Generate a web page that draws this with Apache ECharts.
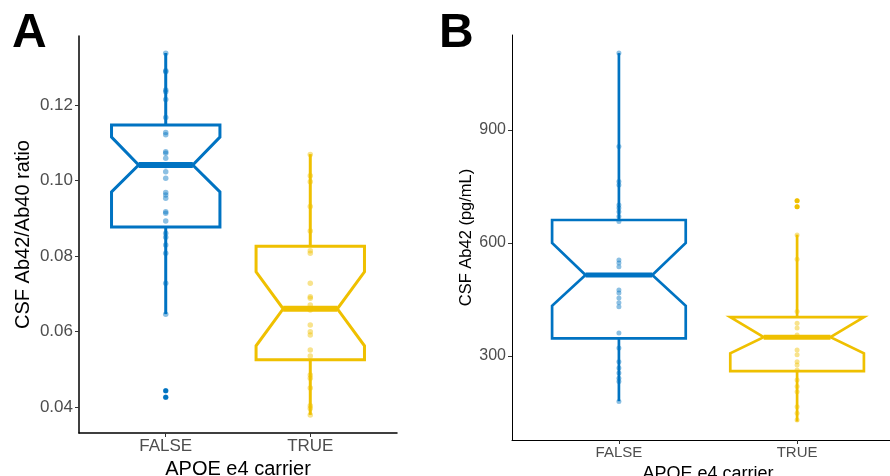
<!DOCTYPE html>
<html>
<head>
<meta charset="utf-8">
<script src="https://cdn.jsdelivr.net/npm/echarts@6/dist/echarts.min.js"></script>
<style>
html,body{margin:0;padding:0;background:#fff;}
#chart{width:890px;height:476px;}
</style>
</head>
<body>
<div id="chart"></div>
<script>
// ---------- data ----------
const categories = ['FALSE', 'TRUE'];
const xTitle = 'APOE e4 carrier';

// Panel A: CSF Ab42/Ab40 ratio
const titleA = 'CSF Ab42/Ab40 ratio';
const ticksA = [0.04, 0.06, 0.08, 0.10, 0.12];
// [lowerWhisker, q1, notchLow, median, notchHigh, q3, upperWhisker]
const boxA_false = [0.0646, 0.0877, 0.0970, 0.1041, 0.1115, 0.1147, 0.1338];
const boxA_true  = [0.0379, 0.0525, 0.0562, 0.0660, 0.0758, 0.0826, 0.1070];
const pointsA_false = [0.1337, 0.1291, 0.1288, 0.1240, 0.1235, 0.1215, 0.1167, 0.1127, 0.1121, 0.1076,
  0.1072, 0.1059, 0.1039, 0.1023, 0.1006, 0.0968, 0.0962, 0.0953, 0.0917, 0.0913, 0.0893, 0.0860,
  0.0850, 0.0829, 0.0807, 0.0728, 0.0646, 0.0443, 0.0426];
const pointsA_true = [0.1069, 0.1013, 0.0997, 0.0931, 0.0866, 0.0814, 0.0807, 0.0728, 0.0692, 0.0688,
  0.0670, 0.0657, 0.0617, 0.0599, 0.0591, 0.0551, 0.0535, 0.0485, 0.0476, 0.0450, 0.0403, 0.0396, 0.0379];
const outliersA_false = [0.0443, 0.0426];
const outliersA_true = [];

// Panel B: CSF Ab42 (pg/mL)
const titleB = 'CSF Ab42 (pg/mL)';
const ticksB = [300, 600, 900];
const boxB_false = [180, 347, 433, 515, 600, 661, 1104];
const boxB_true  = [126, 260, 307, 350, 403, 403, 622];
const pointsB_false = [1104, 856, 763, 754, 701, 693, 683, 670, 657, 555, 547, 537, 475, 467, 454, 441,
  431, 361, 321, 285, 268, 255, 241, 232, 179];
const pointsB_true = [712, 696, 621, 557, 418, 387, 374, 356, 316, 303, 285, 276, 263, 236, 219, 205, 165, 148, 130];
const outliersB_false = [];
const outliersB_true = [712, 696];

// ---------- styling ----------
const BLUE = '#0073C2';
const YELLOW = '#EFC000';
const colors = [BLUE, YELLOW];
const FONT = 'Liberation Sans, Arial, sans-serif';
const BOX_W = 0.75;

function boxRenderer(lw, medW) {
  return function (params, api) {
    const x = api.value(0);
    const lo = api.value(1), q1 = api.value(2), nl = api.value(3), med = api.value(4),
          nh = api.value(5), q3 = api.value(6), hi = api.value(7);
    const color = colors[x - 1];
    const halfW = api.size([BOX_W, 0])[0] / 2;
    const cx = api.coord([x, med])[0];
    const Y = v => api.coord([x, v])[1];
    const xmin = cx - halfW, xmax = cx + halfW, nin = halfW * 0.5;
    const pts = [
      [xmin, Y(q3)], [xmin, Y(nh)], [xmin + nin, Y(med)], [xmin, Y(nl)], [xmin, Y(q1)],
      [xmax, Y(q1)], [xmax, Y(nl)], [xmax - nin, Y(med)], [xmax, Y(nh)], [xmax, Y(q3)]
    ];
    return {
      type: 'group',
      children: [
        { type: 'line', shape: { x1: cx, y1: Y(q3), x2: cx, y2: Y(hi) }, style: { stroke: color, lineWidth: lw } },
        { type: 'line', shape: { x1: cx, y1: Y(q1), x2: cx, y2: Y(lo) }, style: { stroke: color, lineWidth: lw } },
        { type: 'polygon', shape: { points: pts }, style: { fill: '#fff', stroke: color, lineWidth: lw, lineJoin: 'miter' } },
        { type: 'line', shape: { x1: xmin + nin, y1: Y(med), x2: xmax - nin, y2: Y(med) }, style: { stroke: color, lineWidth: medW } }
      ]
    };
  };
}

function boxData(f, t) { return [[1].concat(f), [2].concat(t)]; }
function pts(arr, x) { return arr.map(v => [x, v]); }

function xAxisCfg(gridIndex, fs, titleFs, gap, lw) {
  return {
    type: 'value', gridIndex: gridIndex, min: 0.4, max: 2.6,
    splitLine: { show: false },
    axisLine: { show: true, onZero: false, lineStyle: { color: '#000', width: lw } },
    axisTick: { show: true, customValues: [1, 2], length: 4, lineStyle: { color: '#333', width: 1 } },
    axisLabel: { customValues: [1, 2], formatter: v => categories[Math.round(v) - 1], color: '#4D4D4D',
      fontSize: fs, fontFamily: FONT, margin: 5 },
    name: xTitle, nameLocation: 'middle', nameGap: gap,
    nameTextStyle: { color: '#000', fontSize: titleFs, fontFamily: FONT }
  };
}
function yAxisCfg(gridIndex, min, max, ticks, fmt, fs, title, titleFs, gap, lw) {
  return {
    type: 'value', gridIndex: gridIndex, min: min, max: max,
    splitLine: { show: false },
    axisLine: { show: true, onZero: false, lineStyle: { color: '#000', width: lw } },
    axisTick: { show: true, customValues: ticks, length: 4, lineStyle: { color: '#333', width: 1 } },
    axisLabel: { customValues: ticks, formatter: fmt, color: '#4D4D4D', fontSize: fs, fontFamily: FONT, margin: 6 },
    name: title, nameLocation: 'middle', nameGap: gap, nameRotate: 90,
    nameTextStyle: { color: '#000', fontSize: titleFs, fontFamily: FONT }
  };
}

const chart = echarts.init(document.getElementById('chart'), null, { renderer: 'canvas' });
chart.setOption({
  animation: false,
  backgroundColor: '#fff',
  grid: [
    { left: 79, top: 36, width: 318, height: 397, containLabel: false, outerBoundsMode: 'none' },
    { left: 512, top: 35, width: 392, height: 405, containLabel: false, outerBoundsMode: 'none' }
  ],
  xAxis: [
    xAxisCfg(0, 17, 20, 24, 1.5),
    xAxisCfg(1, 15, 18, 19, 1)
  ],
  yAxis: [
    yAxisCfg(0, 0.0331, 0.1383, ticksA, v => v.toFixed(2), 17, titleA, 20, 46, 1.5),
    yAxisCfg(1, 77, 1152, ticksB, v => String(Math.round(v)), 16, titleB, 16.5, 36, 1)
  ],
  graphic: [
    { type: 'text', left: 12, top: 10, style: { text: 'A', fontSize: 48, fontWeight: 'bold', fontFamily: FONT, fill: '#000' } },
    { type: 'text', left: 439, top: 10, style: { text: 'B', fontSize: 48, fontWeight: 'bold', fontFamily: FONT, fill: '#000' } }
  ],
  series: [
    { type: 'custom', xAxisIndex: 0, yAxisIndex: 0, renderItem: boxRenderer(3, 6),
      encode: { x: 0, y: [1, 2, 3, 4, 5, 6, 7] }, data: boxData(boxA_false, boxA_true), z: 2 },
    { type: 'custom', xAxisIndex: 1, yAxisIndex: 1, renderItem: boxRenderer(2.7, 5),
      encode: { x: 0, y: [1, 2, 3, 4, 5, 6, 7] }, data: boxData(boxB_false, boxB_true), z: 2 },
    { type: 'scatter', xAxisIndex: 0, yAxisIndex: 0, symbolSize: 5, data: pts(outliersA_false, 1).concat(pts(outliersA_true, 2)),
      itemStyle: { color: p => colors[p.value[0] - 1], opacity: 1 }, z: 3 },
    { type: 'scatter', xAxisIndex: 1, yAxisIndex: 1, symbolSize: 5, data: pts(outliersB_false, 1).concat(pts(outliersB_true, 2)),
      itemStyle: { color: p => colors[p.value[0] - 1], opacity: 1 }, z: 3 },
    { type: 'scatter', xAxisIndex: 0, yAxisIndex: 0, symbolSize: 5.5, data: pts(pointsA_false, 1).concat(pts(pointsA_true, 2)),
      itemStyle: { color: p => colors[p.value[0] - 1], opacity: 0.45 }, z: 4 },
    { type: 'scatter', xAxisIndex: 1, yAxisIndex: 1, symbolSize: 5, data: pts(pointsB_false, 1).concat(pts(pointsB_true, 2)),
      itemStyle: { color: p => colors[p.value[0] - 1], opacity: 0.45 }, z: 4 }
  ]
});
</script>
</body>
</html>
